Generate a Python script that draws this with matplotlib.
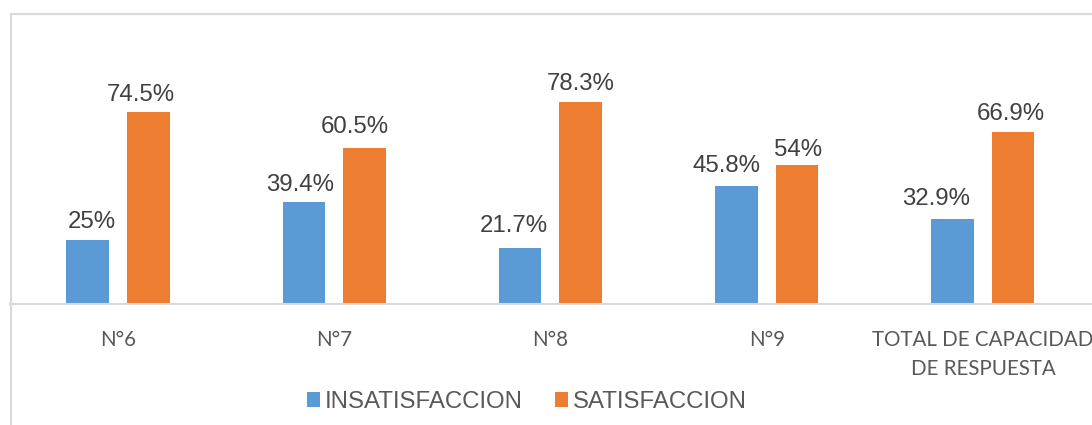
import matplotlib
matplotlib.use("Agg")
import matplotlib.pyplot as plt
from matplotlib.lines import Line2D
import numpy as np

categories = ["N°6", "N°7", "N°8", "N°9", "TOTAL DE CAPACIDAD\nDE RESPUESTA"]
insatisfaccion = [25.0, 39.4, 21.7, 45.8, 32.9]
satisfaccion = [74.5, 60.5, 78.3, 54.0, 66.9]
ins_labels = ["25%", "39.4%", "21.7%", "45.8%", "32.9%"]
sat_labels = ["74.5%", "60.5%", "78.3%", "54%", "66.9%"]
series_names = ["INSATISFACCION", "SATISFACCION"]

# label nudges (pixels): (dx, gap above bar top)
ins_nudge = [(4, 12), (-4, 11), (-6.5, 16.5), (-10, 13.5), (-16, 14)]
sat_nudge = [(-7, 11.5), (-10, 15), (0, 12.5), (1, 8.5), (-2, 11.5)]

W, H = 1092, 425
fig = plt.figure(figsize=(W / 100, H / 100), dpi=100)
fig.patch.set_facecolor("white")

left_px, right_px = 9.9, 1091.0
base_px, top_px = 304.0, 14.0
px_per_unit = 2.577
ax = fig.add_axes([left_px / W, (H - base_px) / H, (right_px - left_px) / W, (base_px - top_px) / H])
ax.set_xlim(-0.5, len(categories) - 0.5)
ax.set_ylim(0, (base_px - top_px) / px_per_unit)

blue = "#5B9BD5"
orange = "#ED7D31"
x = np.arange(len(categories))
bw = 0.197
off = 0.14
b1 = ax.bar(x - off, insatisfaccion, bw, color=blue, label=series_names[0], zorder=2)
b2 = ax.bar(x + off, satisfaccion, bw, color=orange, label=series_names[1], zorder=2)

for xi, v, lab, (dx, dy) in zip(x - off, insatisfaccion, ins_labels, ins_nudge):
    ax.annotate(lab, (xi, v), xytext=(dx, dy), textcoords="offset pixels",
                ha="center", va="baseline", fontsize=17.3, color="#404040",
                family="Liberation Sans")
for xi, v, lab, (dx, dy) in zip(x + off, satisfaccion, sat_labels, sat_nudge):
    ax.annotate(lab, (xi, v), xytext=(dx, dy), textcoords="offset pixels",
                ha="center", va="baseline", fontsize=17.3, color="#404040",
                family="Liberation Sans")

for s in ["top", "right", "left"]:
    ax.spines[s].set_visible(False)
ax.spines["bottom"].set_color("#D9D9D9")
ax.spines["bottom"].set_linewidth(1.5)
ax.set_yticks([])
ax.set_xticks(x)
ax.set_xticklabels(categories, fontsize=14.8, color="#595959", family="Lato",
                   linespacing=1.55)
ax.tick_params(axis="x", length=0, pad=19)

# chart area border (left and top visible)
fig.add_artist(Line2D([10.5 / W, 10.5 / W], [0, (H - 14) / H], transform=fig.transFigure,
                      color="#D9D9D9", lw=1.5))
fig.add_artist(Line2D([10.5 / W, 1], [(H - 14) / H, (H - 14) / H], transform=fig.transFigure,
                      color="#D9D9D9", lw=1.5))

fs = 17.3
fpx = fs * 100 / 72
leg = fig.legend(handles=[b1, b2], labels=series_names, loc="center",
                 bbox_to_anchor=(526.5 / W, (H - 402) / H), ncol=2, frameon=False,
                 prop={"family": "Liberation Sans", "size": fs},
                 handlelength=13 / fpx, handleheight=13 / fpx,
                 handletextpad=5 / fpx, columnspacing=32 / fpx, borderpad=0)
for t in leg.get_texts():
    t.set_color("#595959")

fig.savefig("out.png", dpi=100, facecolor="white")
